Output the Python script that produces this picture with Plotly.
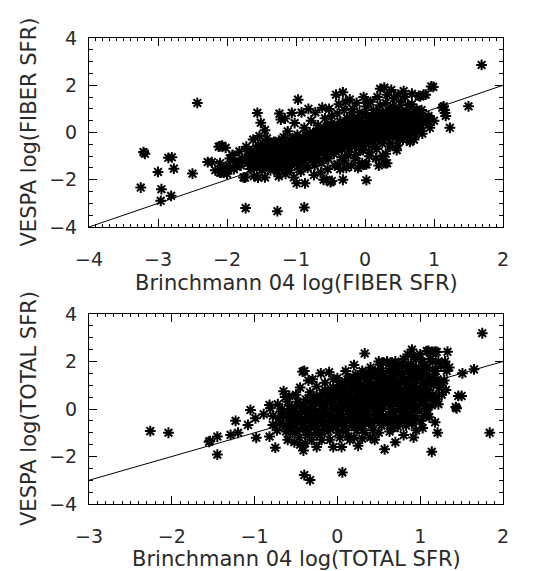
import plotly.graph_objects as go

# ---------------- data ----------------
fiber_out = [
    (1.69, 2.86), (-2.43, 1.25), (-3.21, -0.83), (-3.19, -0.90), (-3.00, -1.67), (-3.25, -2.33),
    (-2.95, -2.40), (-2.96, -2.89), (-2.81, -2.68), (-2.85, -1.07), (-2.80, -1.05), (-2.77, -1.53),
    (-2.50, -1.74), (-2.28, -1.25), (-1.73, -3.20), (-1.27, -3.33), (-0.88, -3.17), (0.02, -2.02),
    (1.23, 0.20), (1.50, 1.11), (0.96, 1.95), (0.99, 1.93), (1.14, 1.11), (1.16, 0.83), (1.12, 1.05),
    (-0.97, 1.39), (-1.56, 0.83), (-1.24, 0.80), (-1.16, 0.59), (-1.06, 0.83), (-1.51, 0.41),
    (-1.45, 0.10), (-2.10, -0.58), (-2.07, -0.56), (-2.10, -1.70), (-1.92, -0.97), (-1.74, -1.91),
    (-1.55, -1.91), (-0.99, -2.15), (-0.87, -2.15), (-0.56, -2.00), (-0.48, -2.05), (0.02, -1.35),
    (0.27, -1.28), (0.30, -1.30), (-0.07, -1.42), (0.80, 0.20), (0.75, 0.97), (0.80, 1.53),
    (0.85, 1.60), (1.15, 0.95), (1.17, 0.70), (0.68, 1.64), (0.92, 0.62), (0.51, -0.29),
]

fiber_core = [
    (-2.22, -1.25), (-2.17, -1.60),
    (-2.12, -0.60), (-2.08, -1.70), (-2.10, -1.30), (-2.05, -1.50),
    (-2.02, -0.65), (-1.98, -1.40), (-2.00, -1.75), (-1.96, -1.10),
    (-1.92, -0.95), (-1.88, -1.25), (-1.90, -1.55), (-1.86, -1.45),
    (-1.82, -0.80), (-1.78, -1.10), (-1.80, -1.40), (-1.76, -1.90), (-1.83, -1.25),
    (-1.72, -0.60), (-1.68, -0.95), (-1.70, -1.30), (-1.66, -1.55), (-1.73, -1.15), (-1.69, -0.75),
    (-1.62, -0.30), (-1.58, -0.70), (-1.60, -1.00), (-1.64, -1.20), (-1.57, -1.50), (-1.61, -1.85), (-1.56, -0.90),
    (-1.53, -0.15), (-1.55, -0.55), (-1.51, -1.35), (-1.54, -1.10),
    (-1.48, -0.45), (-1.46, -0.80), (-1.50, -1.00), (-1.47, -1.25), (-1.49, -1.60), (-1.45, -1.90),
    (-1.42, -0.25), (-1.38, -0.60), (-1.40, -0.85), (-1.36, -1.10), (-1.41, -1.30), (-1.37, -1.60), (-1.39, -1.05), (-1.35, -0.45),
    (-1.32, -0.40), (-1.28, -0.70), (-1.30, -0.95), (-1.26, -1.20), (-1.31, -1.45), (-1.27, -1.65), (-1.29, -0.55), (-1.25, -1.85),
    (-1.22, 0.55), (-1.18, -0.20), (-1.20, -0.50), (-1.16, -0.75), (-1.21, -1.00), (-1.17, -1.25), (-1.19, -1.50), (-1.15, -1.75), (-1.23, -0.90),
    (-1.12, 0.05), (-1.08, -0.35), (-1.10, -0.60), (-1.06, -0.90), (-1.11, -1.10), (-1.07, -1.35), (-1.09, -1.60), (-1.05, -0.75),
    (-1.02, 0.40), (-0.98, -0.10), (-1.00, -0.40), (-0.96, -0.65), (-1.01, -0.85), (-0.97, -1.05), (-0.99, -1.30), (-0.95, -1.55), (-1.03, -1.90), (-0.94, -0.50),
    (-0.92, 0.85), (-0.88, 0.20), (-0.90, -0.20), (-0.86, -0.45), (-0.91, -0.70), (-0.87, -0.95), (-0.89, -1.15), (-0.85, -1.40), (-0.93, -1.65), (-0.84, -0.30),
    (-0.82, 1.00), (-0.78, 0.50), (-0.80, 0.00), (-0.76, -0.30), (-0.81, -0.55), (-0.77, -0.80), (-0.79, -1.00), (-0.75, -1.25), (-0.83, -1.50), (-0.74, -1.80), (-0.78, -0.15),
    (-0.72, 0.85), (-0.68, 0.30), (-0.70, 0.05), (-0.66, -0.20), (-0.71, -0.45), (-0.67, -0.70), (-0.69, -0.95), (-0.65, -1.15), (-0.73, -1.40), (-0.64, -1.70), (-0.68, -0.60),
    (-0.62, 1.05), (-0.58, 0.60), (-0.60, 0.20), (-0.56, -0.10), (-0.61, -0.35), (-0.57, -0.55), (-0.59, -0.80), (-0.55, -1.05), (-0.63, -1.30), (-0.54, -1.55), (-0.60, -2.00), (-0.57, 0.00),
    (-0.52, 1.00), (-0.48, 0.70), (-0.50, 0.35), (-0.46, 0.10), (-0.51, -0.15), (-0.47, -0.40), (-0.49, -0.65), (-0.45, -0.90), (-0.53, -1.10), (-0.44, -1.40), (-0.50, -2.10), (-0.48, -0.25),
    (-0.42, 1.60), (-0.38, 1.20), (-0.40, 0.80), (-0.36, 0.45), (-0.41, 0.20), (-0.37, -0.05), (-0.39, -0.30), (-0.35, -0.55), (-0.43, -0.80), (-0.34, -1.05), (-0.40, -1.35), (-0.36, -1.55),
    (-0.32, 1.70), (-0.28, 1.30), (-0.30, 0.95), (-0.26, 0.60), (-0.31, 0.30), (-0.27, 0.05), (-0.29, -0.20), (-0.25, -0.45), (-0.33, -0.70), (-0.24, -0.95), (-0.30, -1.20), (-0.27, -1.50), (-0.32, -2.00),
    (-0.22, 1.40), (-0.18, 1.00), (-0.20, 0.70), (-0.16, 0.40), (-0.21, 0.15), (-0.17, -0.10), (-0.19, -0.35), (-0.15, -0.60), (-0.23, -0.85), (-0.14, -1.10), (-0.20, -1.40), (-0.18, 0.55),
    (-0.12, 1.25), (-0.08, 0.85), (-0.10, 0.55), (-0.06, 0.30), (-0.11, 0.05), (-0.07, -0.20), (-0.09, -0.45), (-0.05, -0.70), (-0.13, -0.95), (-0.04, -1.30), (-0.10, -1.50),
    (-0.02, 1.50), (0.02, 1.10), (0.00, 0.80), (0.04, 0.50), (-0.01, 0.25), (0.03, 0.00), (0.01, -0.25), (0.05, -0.50), (-0.03, -0.75), (0.06, -1.00), (0.00, -1.35), (0.03, 1.30),
    (0.08, 1.30), (0.12, 0.95), (0.10, 0.65), (0.14, 0.40), (0.09, 0.15), (0.13, -0.10), (0.11, -0.35), (0.15, -0.60), (0.07, -0.85), (0.16, -1.10), (0.12, 0.30),
    (0.18, 1.50), (0.22, 1.15), (0.20, 0.80), (0.24, 0.55), (0.19, 0.30), (0.23, 0.05), (0.21, -0.20), (0.25, -0.45), (0.17, -0.70), (0.26, -1.00), (0.20, -1.40), (0.22, 1.85),
    (0.28, 1.90), (0.32, 1.60), (0.30, 1.25), (0.34, 0.95), (0.29, 0.65), (0.33, 0.40), (0.31, 0.15), (0.35, -0.10), (0.27, -0.35), (0.36, -0.60), (0.30, -0.90), (0.32, -1.30),
    (0.38, 1.80), (0.42, 1.45), (0.40, 1.10), (0.44, 0.80), (0.39, 0.55), (0.43, 0.30), (0.41, 0.05), (0.45, -0.20), (0.37, -0.45), (0.46, -0.75),
    (0.48, 1.60), (0.52, 1.30), (0.50, 1.00), (0.54, 0.70), (0.49, 0.45), (0.53, 0.20), (0.51, -0.05), (0.55, -0.30), (0.47, -0.55), (0.56, 1.75),
    (0.58, 1.50), (0.62, 1.15), (0.60, 0.85), (0.64, 0.60), (0.59, 0.35), (0.63, 0.10), (0.61, -0.15), (0.65, -0.40),
    (0.68, 1.20), (0.72, 0.90), (0.70, 0.60), (0.74, 0.35), (0.69, 0.10), (0.73, -0.10), (0.71, -0.30),
    (0.78, 1.55), (0.82, 0.95), (0.80, 0.65), (0.84, 0.40), (0.79, 0.15), (0.83, -0.05),
    (0.88, 1.60), (0.92, 0.70), (0.90, 0.45), (0.94, 0.20),
    (1.00, 0.50),
]

fiber_fill = [
    (-1.65, -1.05), (-1.63, -1.35), (-1.65, -0.80),
    (-1.55, -0.75), (-1.53, -1.00), (-1.55, -1.25),
    (-1.45, -0.65), (-1.44, -0.95), (-1.45, -1.15), (-1.43, -1.45),
    (-1.35, -0.55), (-1.34, -0.80), (-1.35, -1.05), (-1.33, -1.30),
    (-1.25, -0.35), (-1.24, -0.60), (-1.25, -0.85), (-1.23, -1.10), (-1.25, -1.35),
    (-1.15, -0.45), (-1.14, -0.70), (-1.15, -0.95), (-1.13, -1.20), (-1.15, -1.45),
    (-1.05, -0.25), (-1.04, -0.50), (-1.05, -0.75), (-1.03, -1.00), (-1.05, -1.20),
    (-0.95, -0.30), (-0.94, -0.55), (-0.95, -0.80), (-0.93, -1.05), (-0.95, -1.30),
    (-0.85, -0.10), (-0.84, -0.35), (-0.85, -0.60), (-0.83, -0.85), (-0.85, -1.10),
    (-0.75, -0.05), (-0.74, -0.30), (-0.75, -0.55), (-0.73, -0.80), (-0.75, -1.05),
    (-0.65, 0.10), (-0.64, -0.10), (-0.65, -0.35), (-0.63, -0.60), (-0.65, -0.85),
    (-0.55, 0.25), (-0.54, 0.00), (-0.55, -0.25), (-0.53, -0.50), (-0.55, -0.75),
    (-0.45, 0.30), (-0.44, 0.05), (-0.45, -0.20), (-0.43, -0.45), (-0.45, -0.70),
    (-0.35, 0.35), (-0.34, 0.10), (-0.35, -0.15), (-0.33, -0.40), (-0.35, -0.65),
    (-0.25, 0.45), (-0.24, 0.20), (-0.25, -0.05), (-0.23, -0.30), (-0.25, -0.55),
    (-0.15, 0.55), (-0.14, 0.30), (-0.15, 0.05), (-0.13, -0.20), (-0.15, -0.45),
    (-0.05, 0.60), (-0.04, 0.35), (-0.05, 0.10), (-0.03, -0.15), (-0.05, -0.40),
    (0.05, 0.65), (0.06, 0.40), (0.05, 0.15), (0.07, -0.10), (0.05, -0.35),
    (0.15, 0.70), (0.16, 0.45), (0.15, 0.20), (0.17, -0.05), (0.15, -0.30),
    (0.25, 0.80), (0.26, 0.55), (0.25, 0.30), (0.27, 0.05), (0.25, -0.20),
    (0.35, 0.85), (0.36, 0.60), (0.35, 0.35), (0.37, 0.10), (0.35, -0.15),
    (0.45, 0.90), (0.46, 0.65), (0.45, 0.40), (0.47, 0.15),
    (0.55, 0.85), (0.56, 0.60), (0.55, 0.35), (0.57, 0.10),
    (0.65, 0.75), (0.66, 0.50), (0.65, 0.25),
    (0.75, 0.55), (0.76, 0.30),
]

total_out = [
    (1.75, 3.19), (-2.26, -0.93), (-2.04, -1.00), (-1.55, -1.38), (-1.54, -1.35), (-1.45, -1.16),
    (-1.45, -1.92), (-1.29, -1.09), (-1.23, -0.50), (-1.20, -1.00), (-1.08, -0.67), (-1.05, -0.04),
    (-0.98, -1.21), (-0.99, -0.39), (-0.89, -0.22), (-0.82, 0.17), (-0.81, 0.03), (-0.82, -1.16),
    (-0.78, -0.29), (-0.75, -1.63), (-0.78, -0.67), (-0.40, -2.78), (-0.33, -2.99), (0.06, -2.67),
    (1.84, -1.00), (1.65, 1.67), (1.51, 1.50), (1.33, 2.41), (1.44, 0.03), (1.43, 0.08), (1.46, 0.55),
    (1.50, 0.55), (1.14, -1.80), (1.21, -1.00), (1.18, -0.56), (0.33, 2.34), (-0.42, 1.57),
    (1.08, 2.44), (1.18, 2.42),
]

total_core = [
    (-0.72, 0.20), (-0.68, -0.10), (-0.71, -0.40), (-0.69, -0.60), (-0.73, -0.90), (-0.67, 0.00),
    (-0.65, 0.75), (-0.63, 0.50), (-0.66, -0.30), (-0.64, -0.75), (-0.62, -0.95),
    (-0.60, 0.30), (-0.58, 0.00), (-0.61, -0.25), (-0.59, -0.50), (-0.57, -0.80), (-0.60, -1.30), (-0.58, 0.55),
    (-0.55, 0.10), (-0.53, -0.40), (-0.56, -0.65), (-0.54, -1.00), (-0.52, -1.40),
    (-0.50, 0.60), (-0.48, 0.30), (-0.51, 0.05), (-0.49, -0.20), (-0.47, -0.45), (-0.50, -0.70), (-0.48, -0.95), (-0.46, -1.20),
    (-0.45, 0.90), (-0.43, -0.10), (-0.44, -0.55), (-0.42, -0.80), (-0.45, -1.50),
    (-0.40, 1.60), (-0.38, 0.40), (-0.41, 0.15), (-0.39, -0.10), (-0.37, -0.35), (-0.40, -0.60), (-0.38, -0.85), (-0.36, -1.10), (-0.41, -1.75), (-0.39, -1.45),
    (-0.35, 1.20), (-0.33, 0.70), (-0.34, -0.25), (-0.32, -0.70), (-0.35, -1.00),
    (-0.30, 1.25), (-0.28, 0.50), (-0.31, 0.25), (-0.29, 0.00), (-0.27, -0.25), (-0.30, -0.50), (-0.28, -0.75), (-0.26, -1.00), (-0.31, -1.30),
    (-0.25, 0.95), (-0.23, 0.30), (-0.24, -0.40), (-0.22, -0.90), (-0.25, -1.60),
    (-0.20, 1.50), (-0.18, 0.65), (-0.21, 0.40), (-0.19, 0.15), (-0.17, -0.10), (-0.20, -0.35), (-0.18, -0.60), (-0.16, -0.85), (-0.21, -1.10), (-0.19, -1.30),
    (-0.15, 1.10), (-0.13, 0.50), (-0.14, -0.20), (-0.12, -0.70),
    (-0.10, 1.55), (-0.08, 0.80), (-0.11, 0.55), (-0.09, 0.30), (-0.07, 0.05), (-0.10, -0.20), (-0.08, -0.45), (-0.06, -0.70), (-0.11, -0.95), (-0.09, -1.30),
    (-0.05, 1.25), (-0.03, 0.60), (-0.04, 0.15), (-0.02, -0.55), (-0.05, -1.60),
    (0.00, 1.30), (0.02, 1.00), (-0.01, 0.75), (0.01, 0.50), (0.03, 0.25), (0.00, 0.00), (0.02, -0.25), (0.04, -0.50), (-0.01, -0.75), (0.01, -1.00), (0.03, -1.20),
    (0.05, 1.10), (0.07, 0.35), (0.06, -0.35), (0.08, -0.85), (0.05, -1.60),
    (0.10, 1.60), (0.12, 1.25), (0.09, 0.90), (0.11, 0.65), (0.13, 0.40), (0.10, 0.15), (0.12, -0.10), (0.14, -0.35), (0.09, -0.60), (0.11, -0.90), (0.13, -1.15),
    (0.15, 1.00), (0.17, 0.50), (0.16, -0.20), (0.18, -0.70), (0.15, -1.30),
    (0.20, 1.85), (0.22, 1.45), (0.19, 1.15), (0.21, 0.85), (0.23, 0.60), (0.20, 0.35), (0.22, 0.10), (0.24, -0.15), (0.19, -0.40), (0.21, -0.65), (0.23, -0.90), (0.20, -1.20),
    (0.25, 1.30), (0.27, 0.75), (0.26, 0.20), (0.28, -0.50), (0.25, -1.55),
    (0.30, 1.60), (0.32, 1.35), (0.29, 1.05), (0.31, 0.80), (0.33, 0.55), (0.30, 0.30), (0.32, 0.05), (0.34, -0.20), (0.29, -0.45), (0.31, -0.70), (0.33, -1.00), (0.30, -1.25),
    (0.35, 1.25), (0.37, 0.65), (0.36, 0.15), (0.38, -0.60),
    (0.40, 1.75), (0.42, 1.45), (0.39, 1.15), (0.41, 0.90), (0.43, 0.65), (0.40, 0.40), (0.42, 0.15), (0.44, -0.10), (0.39, -0.35), (0.41, -0.60), (0.43, -0.90), (0.40, -1.20),
    (0.45, 1.35), (0.47, 0.80), (0.46, 0.30), (0.48, -0.25), (0.45, -1.30),
    (0.50, 2.00), (0.52, 1.70), (0.49, 1.40), (0.51, 1.10), (0.53, 0.85), (0.50, 0.60), (0.52, 0.35), (0.54, 0.10), (0.49, -0.15), (0.51, -0.40), (0.53, -0.70), (0.50, -1.00),
    (0.55, 1.95), (0.57, 1.25), (0.56, 0.70), (0.58, 0.20), (0.55, -0.55), (0.57, -1.70),
    (0.60, 2.00), (0.62, 1.60), (0.59, 1.30), (0.61, 1.00), (0.63, 0.75), (0.60, 0.50), (0.62, 0.25), (0.64, 0.00), (0.59, -0.30), (0.61, -0.60), (0.63, -0.95),
    (0.65, 1.95), (0.67, 1.45), (0.66, 0.90), (0.68, 0.40), (0.65, -0.15), (0.67, -0.80),
    (0.70, 2.00), (0.72, 1.70), (0.69, 1.40), (0.71, 1.10), (0.73, 0.85), (0.70, 0.60), (0.72, 0.35), (0.74, 0.10), (0.69, -0.15), (0.71, -0.45), (0.73, -0.75), (0.70, -1.40),
    (0.75, 1.85), (0.77, 1.25), (0.76, 0.75), (0.78, 0.20), (0.75, -0.35),
    (0.80, 2.10), (0.82, 1.80), (0.79, 1.50), (0.81, 1.20), (0.83, 0.90), (0.80, 0.65), (0.82, 0.40), (0.84, 0.15), (0.79, -0.10), (0.81, -0.40), (0.83, -0.70), (0.80, -1.10),
    (0.85, 2.30), (0.87, 1.35), (0.86, 0.80), (0.88, 0.30), (0.85, -0.25),
    (0.90, 2.50), (0.92, 2.20), (0.89, 1.90), (0.91, 1.60), (0.93, 1.30), (0.90, 1.00), (0.92, 0.75), (0.94, 0.50), (0.89, 0.25), (0.91, 0.00), (0.93, -0.30), (0.90, -0.60), (0.92, -1.20),
    (0.95, 2.10), (0.97, 1.45), (0.96, 0.90), (0.98, 0.40), (0.95, -0.90),
    (1.00, 2.30), (1.02, 2.00), (0.99, 1.70), (1.01, 1.40), (1.03, 1.10), (1.00, 0.80), (1.02, 0.50), (1.04, 0.20), (0.99, -0.10), (1.01, -0.50), (1.03, -0.80),
    (1.05, 1.85), (1.07, 1.20), (1.06, 0.65), (1.08, 0.00),
    (1.10, 2.45), (1.12, 2.10), (1.09, 1.75), (1.11, 1.40), (1.13, 1.10), (1.10, 0.80), (1.12, 0.50), (1.14, 0.15), (1.09, -0.20), (1.11, -0.35),
    (1.15, 2.40), (1.17, 1.60), (1.16, 1.00), (1.18, 0.35),
    (1.20, 2.40), (1.22, 2.00), (1.19, 1.60), (1.21, 1.25), (1.23, 0.90), (1.20, 0.55), (1.22, 0.20),
    (1.25, 1.80), (1.27, 1.10), (1.26, 0.60),
    (1.30, 2.00), (1.32, 1.60), (1.29, 1.20), (1.31, 0.80),
    (1.35, 1.75),
]

total_fill = [
    (-0.55, -0.20), (-0.45, -0.35), (-0.45, 0.15), (-0.35, -0.50), (-0.35, 0.00), (-0.35, 0.45),
    (-0.25, -0.60), (-0.25, -0.15), (-0.25, 0.55), (-0.15, -0.45), (-0.15, 0.05), (-0.15, 0.30), (-0.15, 0.80),
    (-0.05, -0.80), (-0.05, -0.30), (-0.05, 0.40), (-0.05, 0.90),
    (0.05, -0.60), (0.05, -0.10), (0.05, 0.60), (0.05, 0.85),
    (0.15, -0.45), (0.15, 0.05), (0.15, 0.25), (0.15, 0.75), (0.15, 1.30),
    (0.25, -0.80), (0.25, -0.30), (0.25, 0.00), (0.25, 0.45), (0.25, 1.00),
    (0.35, -0.35), (0.35, -0.05), (0.35, 0.40), (0.35, 0.90), (0.35, 1.50),
    (0.45, -0.50), (0.45, 0.05), (0.45, 0.55), (0.45, 1.05), (0.45, 1.60),
    (0.55, -0.30), (0.55, 0.00), (0.55, 0.45), (0.55, 0.95), (0.55, 1.50),
    (0.65, -0.45), (0.65, 0.15), (0.65, 0.65), (0.65, 1.20), (0.65, 1.70),
    (0.75, -0.60), (0.75, 0.00), (0.75, 0.50), (0.75, 1.00), (0.75, 1.50),
    (0.85, -0.50), (0.85, 0.05), (0.85, 0.55), (0.85, 1.05), (0.85, 1.60),
    (0.95, -0.45), (0.95, 0.15), (0.95, 0.65), (0.95, 1.20), (0.95, 1.75),
    (1.05, -0.30), (1.05, 0.35), (1.05, 0.90), (1.05, 1.55),
    (1.15, 0.60), (1.15, 1.30), (1.15, 2.00),
]

one_to_one = [-5, 3]   # y = x reference line

fiber_range_x = [-4, 2]
total_range_x = [-3, 2]
range_y = [-4, 4]

x_title_top = "Brinchmann 04 log(FIBER SFR)"
y_title_top = "VESPA log(FIBER SFR)"
x_title_bot = "Brinchmann 04 log(TOTAL SFR)"
y_title_bot = "VESPA log(TOTAL SFR)"

# ---------------- figure ----------------
W, H = 548, 571
FONT = "DejaVu Sans"
TXT = "#2a2a2a"

fiber = fiber_core + fiber_fill + fiber_out
total = total_core + total_fill + total_out

marker = dict(symbol="asterisk-open", size=9, color="black",
              line=dict(color="black", width=2))

fig = go.Figure()
fig.add_trace(go.Scatter(x=[p[0] for p in fiber], y=[p[1] for p in fiber],
                         mode="markers", marker=marker, xaxis="x", yaxis="y",
                         showlegend=False))
fig.add_trace(go.Scatter(x=one_to_one, y=one_to_one, mode="lines",
                         line=dict(color="black", width=1), xaxis="x", yaxis="y",
                         showlegend=False))
fig.add_trace(go.Scatter(x=[p[0] for p in total], y=[p[1] for p in total],
                         mode="markers", marker=marker, xaxis="x2", yaxis="y2",
                         showlegend=False))
fig.add_trace(go.Scatter(x=one_to_one, y=one_to_one, mode="lines",
                         line=dict(color="black", width=1), xaxis="x2", yaxis="y2",
                         showlegend=False))

x_dom = [89 / W, 503 / W]
y_dom_top = [1 - 227 / H, 1 - 38 / H]
y_dom_bot = [1 - 504 / H, 1 - 314 / H]


def xax(rng, anchor):
    return dict(domain=x_dom, range=rng, anchor=anchor, automargin=False,
                showgrid=False, zeroline=False,
                showline=True, linecolor="black", linewidth=1, mirror="allticks",
                ticks="inside", ticklen=8, tickcolor="black", dtick=1, tick0=0,
                minor=dict(dtick=0.1, tick0=0, ticks="inside", ticklen=3, tickcolor="black"),
                tickfont=dict(family=FONT, size=19, color=TXT), ticklabelstandoff=15)


def yax(dom, anchor):
    return dict(domain=dom, range=range_y, anchor=anchor, automargin=False,
                showgrid=False, zeroline=False,
                showline=True, linecolor="black", linewidth=1, mirror="allticks",
                ticks="inside", ticklen=8, tickcolor="black", dtick=2, tick0=0,
                minor=dict(dtick=0.5, tick0=0, ticks="inside", ticklen=4, tickcolor="black"),
                tickfont=dict(family=FONT, size=19, color=TXT), ticklabelstandoff=7)


fig.update_layout(
    width=W, height=H, margin=dict(l=0, r=0, t=0, b=0, autoexpand=False),
    paper_bgcolor="white", plot_bgcolor="white",
    xaxis=xax(fiber_range_x, "y"), yaxis=yax(y_dom_top, "x"),
    xaxis2=xax(total_range_x, "y2"), yaxis2=yax(y_dom_bot, "x2"),
    showlegend=False,
)

cx = (x_dom[0] + x_dom[1]) / 2
ann_font = dict(family=FONT, size=21, color=TXT)
fig.add_annotation(text=x_title_top, x=cx, y=1 - 283 / H, xref="paper", yref="paper",
                   showarrow=False, font=ann_font, xanchor="center", yanchor="middle")
fig.add_annotation(text=x_title_bot, x=cx, y=1 - 559 / H, xref="paper", yref="paper",
                   showarrow=False, font=ann_font, xanchor="center", yanchor="middle")
fig.add_annotation(text=y_title_top, x=29 / W, y=(y_dom_top[0] + y_dom_top[1]) / 2,
                   xref="paper", yref="paper", showarrow=False, font=ann_font,
                   textangle=-90, xanchor="center", yanchor="middle")
fig.add_annotation(text=y_title_bot, x=29 / W, y=(y_dom_bot[0] + y_dom_bot[1]) / 2,
                   xref="paper", yref="paper", showarrow=False, font=ann_font,
                   textangle=-90, xanchor="center", yanchor="middle")

fig.write_html("out.html")
